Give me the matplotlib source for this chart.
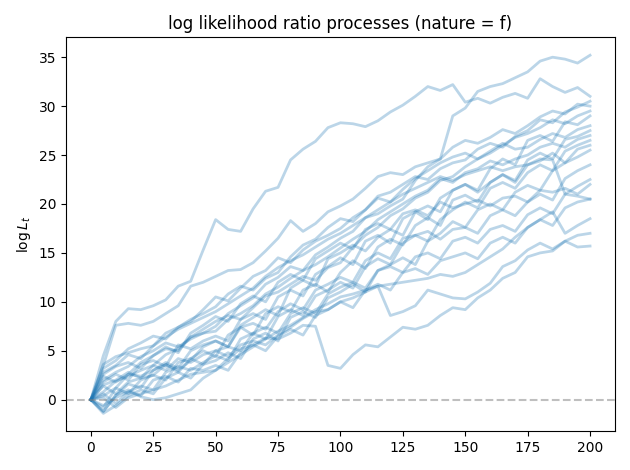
import numpy as np
import matplotlib
matplotlib.use("Agg")
import matplotlib.pyplot as plt

# time grid (every 5 periods)
t = np.arange(0, 201, 5)

path_a = [0, 4.5, 8.0, 9.3, 9.2, 9.6, 10.2, 11.6, 12.1, 15.3, 18.4, 17.4, 17.2, 19.5, 21.3, 21.7, 24.5, 25.6, 26.4, 27.8,
          28.3, 28.2, 27.9, 28.5, 29.4, 30.1, 31.0, 32.0, 31.6, 32.2, 30.4, 30.8, 30.3, 30.9, 31.3, 30.8, 32.8, 32.0, 31.4, 31.9, 31.0]
path_b = [0, 3.5, 7.6, 7.8, 7.6, 8.0, 8.8, 9.6, 11.6, 12.0, 12.6, 13.2, 13.3, 14.0, 15.2, 16.5, 18.3, 17.2, 18.0, 19.2,
          19.8, 20.5, 21.6, 22.8, 23.2, 23.0, 23.8, 24.2, 24.6, 29.0, 29.8, 31.5, 32.0, 32.3, 32.9, 33.5, 34.6, 35.0, 34.8, 34.4, 35.2]
path_c = [0, -1.2, 0.5, 1.0, 0.3, 0.0, 0.2, 0.6, 1.0, 2.2, 3.0, 4.2, 5.2, 5.6, 6.3, 6.2, 6.8, 7.6, 7.5, 3.5,
          3.2, 4.6, 5.6, 5.4, 6.4, 7.4, 7.2, 7.6, 8.6, 9.4, 9.2, 10.4, 11.2, 12.4, 13.0, 14.6, 15.0, 15.2, 16.2, 15.6, 15.7]
path_d = [0, 1.5, 2.0, 2.8, 2.2, 3.5, 3.0, 4.2, 3.8, 4.6, 5.0, 4.4, 5.6, 6.0, 5.6, 6.6, 7.4, 8.3, 9.0, 9.2,
          10.0, 10.4, 11.0, 11.6, 8.6, 9.0, 9.6, 11.2, 10.8, 10.4, 10.3, 11.0, 11.9, 13.6, 14.2, 15.3, 16.0, 15.4, 16.2, 16.8, 17.0]
path_e = [0, 2.8, 3.5, 4.6, 4.2, 5.5, 6.8, 7.4, 8.0, 9.2, 10.5, 10.1, 11.4, 12.6, 13.2, 14.5, 14.0, 15.3, 16.2, 16.8,
          17.5, 18.6, 19.4, 20.8, 21.2, 22.0, 22.8, 22.5, 23.6, 24.2, 24.5, 25.6, 26.2, 25.8, 26.9, 27.5, 28.6, 28.3, 29.4, 29.9, 30.5]
path_f = [0, 0.8, 1.9, 2.4, 3.0, 3.5, 4.6, 5.2, 6.4, 6.8, 7.5, 8.8, 9.6, 10.4, 11.8, 12.5, 13.6, 13.2, 14.8, 15.6,
          16.5, 17.2, 18.6, 19.0, 19.8, 20.5, 22.4, 23.8, 24.6, 25.8, 26.5, 26.2, 26.8, 27.6, 27.2, 28.0, 28.9, 29.5, 29.2, 30.2, 30.0]
path_g = [0, -0.8, 1.2, 2.6, 3.8, 4.5, 5.2, 5.0, 6.4, 7.2, 8.0, 8.6, 8.2, 9.4, 10.6, 11.0, 11.8, 12.6, 12.2, 13.5,
          14.0, 15.6, 16.8, 17.6, 18.8, 19.5, 20.6, 21.2, 22.4, 22.8, 23.8, 24.6, 25.2, 26.0, 26.8, 27.2, 27.8, 28.6, 28.2, 29.0, 29.5]
path_h = [0, 3.2, 4.0, 5.2, 5.8, 6.5, 6.2, 7.4, 8.2, 8.8, 9.5, 10.8, 11.6, 11.2, 12.4, 13.0, 14.6, 15.8, 16.4, 17.6,
          18.5, 18.2, 19.4, 20.6, 20.2, 21.5, 22.6, 23.4, 24.2, 24.8, 25.2, 24.6, 25.4, 26.2, 25.6, 25.8, 26.6, 27.2, 26.8, 27.6, 28.0]
path_i = [0, -1.2, 0.4, 1.6, 1.2, 3.0, 3.6, 2.8, 4.2, 5.0, 4.4, 6.6, 7.4, 6.6, 8.8, 9.5, 9.0, 11.2, 11.8, 11.0,
          13.0, 14.2, 13.4, 15.6, 16.4, 15.8, 17.8, 18.6, 17.8, 20.4, 20.9, 20.2, 22.2, 23.0, 22.4, 24.5, 25.2, 24.6, 26.6, 26.9, 27.5]
path_j = [0, 2.0, 2.8, 3.4, 4.4, 5.0, 5.8, 5.4, 6.2, 6.8, 7.0, 8.2, 8.8, 9.6, 10.8, 11.5, 12.4, 13.2, 13.8, 14.6,
          15.5, 16.4, 17.2, 18.4, 19.2, 20.0, 20.8, 21.4, 22.6, 22.2, 23.2, 23.6, 24.4, 24.0, 24.6, 25.0, 25.8, 26.2, 25.8, 26.6, 27.0]
path_k = [0, 1.8, 2.6, 2.0, 3.6, 4.0, 3.4, 5.6, 5.2, 6.0, 6.5, 6.0, 8.2, 8.8, 8.2, 10.5, 11.2, 10.6, 12.8, 13.6,
          14.5, 13.8, 16.2, 16.8, 16.0, 18.5, 19.2, 18.4, 20.6, 21.4, 22.0, 21.2, 22.2, 23.0, 22.2, 24.0, 24.4, 25.2, 24.2, 25.6, 26.0]
path_l = [0, -1.4, -0.6, 0.4, 1.0, 0.6, 2.2, 2.8, 2.2, 3.6, 4.0, 4.8, 4.2, 6.2, 6.8, 6.0, 8.4, 9.0, 8.4, 10.4,
          11.0, 11.8, 11.0, 13.2, 13.8, 14.5, 13.8, 16.2, 17.0, 18.2, 17.6, 19.4, 20.0, 19.4, 21.2, 21.9, 21.4, 23.4, 24.2, 24.8, 25.5]
path_m = [0, 2.4, 1.8, 2.6, 2.4, 3.0, 3.8, 3.2, 5.0, 5.6, 6.0, 5.4, 7.4, 7.8, 7.2, 9.0, 9.8, 9.2, 11.2, 11.8,
          12.5, 12.0, 14.2, 15.0, 14.4, 16.5, 16.8, 17.2, 16.4, 17.4, 17.6, 17.0, 18.8, 19.4, 18.8, 20.2, 21.0, 20.4, 22.6, 23.4, 24.0]
path_n = [0, 0.4, 1.2, 0.6, 2.0, 2.5, 2.0, 3.8, 4.2, 3.6, 5.0, 5.4, 5.0, 6.8, 7.4, 6.8, 8.8, 9.4, 8.8, 10.8,
          11.5, 12.0, 11.4, 13.2, 13.6, 13.0, 14.6, 15.0, 14.4, 16.2, 16.6, 16.0, 17.4, 17.8, 17.2, 18.9, 19.6, 19.0, 21.0, 21.8, 22.5]
path_o = [0, 3.6, 4.4, 4.8, 5.2, 5.5, 6.4, 7.2, 7.8, 8.4, 9.0, 9.8, 10.6, 11.4, 12.6, 13.5, 14.2, 14.8, 15.6, 16.4,
          17.0, 17.8, 18.6, 19.4, 20.2, 21.0, 21.6, 22.2, 22.8, 22.4, 23.0, 23.4, 23.8, 23.4, 23.8, 24.0, 24.6, 24.5, 21.0, 20.8, 20.5]
path_p = [0, -0.6, 0.2, 0.8, 0.4, 2.0, 2.4, 1.8, 3.2, 3.0, 3.5, 3.0, 4.8, 5.6, 5.0, 6.5, 7.2, 6.6, 8.6, 9.2,
          10.0, 9.4, 11.2, 11.8, 11.2, 13.0, 13.4, 12.8, 14.2, 14.6, 15.0, 14.4, 16.0, 16.6, 16.0, 17.6, 18.4, 17.8, 19.6, 20.2, 20.5]
path_q = [0, 0.2, -0.8, 0.2, 0.6, 1.0, 1.4, 2.0, 2.6, 2.8, 3.0, 3.8, 4.6, 5.4, 6.2, 7.0, 7.6, 8.4, 9.2, 9.8,
          10.5, 10.8, 11.2, 11.6, 11.8, 12.0, 12.2, 12.4, 12.8, 12.6, 13.0, 13.8, 14.6, 15.4, 16.6, 17.6, 18.4, 19.2, 17.0, 17.8, 18.5]
path_r = [0, 1.4, 0.6, 1.8, 2.2, 2.5, 3.6, 3.0, 4.0, 5.4, 6.0, 5.4, 7.6, 8.4, 9.2, 8.6, 11.4, 12.2, 11.6, 14.4,
          15.0, 15.8, 15.2, 16.6, 17.4, 16.8, 19.2, 19.8, 19.2, 21.4, 22.0, 21.4, 23.6, 24.6, 24.0, 26.5, 27.0, 26.4, 28.4, 28.1, 29.0]
path_s = [0, 0.6, -0.4, 0.8, 1.4, 1.0, 2.8, 3.4, 3.0, 3.8, 4.5, 4.0, 6.2, 6.8, 6.2, 8.5, 9.2, 8.6, 10.6, 11.2,
          12.0, 11.4, 13.6, 14.4, 13.8, 16.0, 16.8, 16.2, 18.4, 19.4, 20.2, 19.6, 21.6, 22.2, 21.6, 23.2, 24.0, 23.4, 25.4, 26.0, 26.5]
path_t = [0, 2.6, 3.4, 3.8, 3.2, 4.5, 5.4, 4.8, 6.8, 7.6, 8.5, 8.0, 9.8, 10.6, 10.0, 12.0, 12.8, 12.2, 14.4, 15.2,
          16.0, 15.4, 17.4, 18.0, 17.4, 19.0, 19.4, 18.8, 20.2, 19.6, 20.0, 20.4, 19.8, 20.6, 20.8, 20.2, 21.4, 21.2, 21.6, 21.0, 22.0]

paths = [path_a, path_b, path_c, path_d, path_e, path_f, path_g, path_h, path_i, path_j,
         path_k, path_l, path_m, path_n, path_o, path_p, path_q, path_r, path_s, path_t]

fig, ax = plt.subplots(figsize=(6.3, 4.7), dpi=100)

for p in paths:
    ax.plot(t, p, color='C0', lw=2, alpha=0.3)

ax.axhline(0, color='grey', linestyle='--', alpha=0.5)
ax.set_title('log likelihood ratio processes (nature = f)')
ax.set_ylabel(r'$\log L_t$')

plt.tight_layout()
plt.savefig('out.png')
